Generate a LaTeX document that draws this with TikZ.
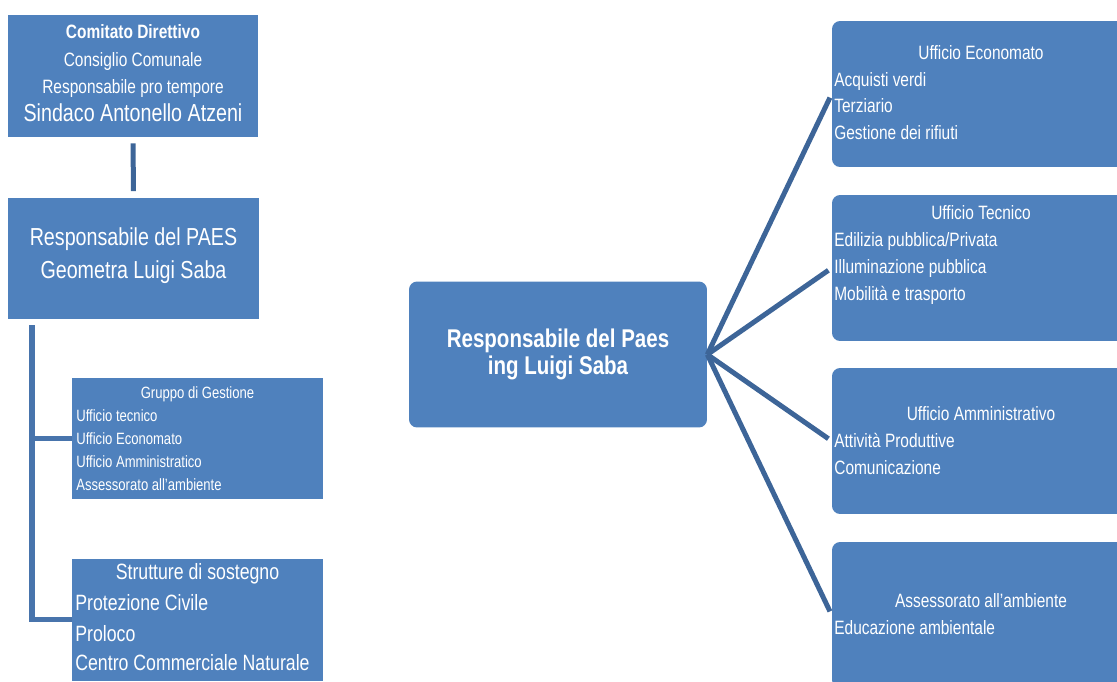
\documentclass[tikz,border=0pt]{standalone}
\usepackage{fontspec}
\setmainfont{Liberation Sans}[FakeStretch=0.8]
\usetikzlibrary{positioning}
\definecolor{boxblue}{RGB}{79,129,189}
\definecolor{linkblue}{RGB}{61,101,152}
\definecolor{brackblue}{RGB}{72,116,172}
\tikzset{
	sqbox/.style={
		rectangle,
		fill=boxblue,
		minimum width=5.02cm,
		minimum height=2.44cm,
		inner sep=0pt
	},
	rdbox/.style={
		rectangle,
		rounded corners=0.16cm,
		fill=boxblue,
		minimum width=5.96cm,
		minimum height=2.92cm,
		inner sep=0pt
	},
	ttl/.style={
		text=white,
		inner sep=0pt,
		text height=0.72em,
		text depth=0pt
	},
	item/.style={ttl, anchor=west},
	ctxt/.style={font=\fontsize{11}{13}\selectfont},
	btxt/.style={font=\fontsize{14}{16}\selectfont},
	gtxt/.style={font=\fontsize{9.3}{11}\selectfont},
	stxt/.style={font=\fontsize{12.6}{14}\selectfont},
	mtxt/.style={font=\fontsize{14.6}{17}\selectfont\bfseries},
	link/.style={draw=linkblue, line width=0.1cm},
	bracket/.style={draw=brackblue, line width=0.11cm}
}

\begin{document}
\begin{tikzpicture}[x=0.02cm, y=-0.02cm]
	\useasboundingbox (0,0) rectangle (1117,681);
	\clip (0,0) rectangle (1117,681);
	% left column
	\node (cd) [sqbox] at (133,76) {};
	\node (paes) [sqbox] at (133.5,258.5) {};
	\node (gg) [sqbox] at (197.5,438.5) {};
	\node (ss) [sqbox] at (197.5,619.5) {};

	\node (cd1) [ttl, ctxt] at (133,32.5) {\bfseries Comitato Direttivo};
	\node (cd2) [ttl, ctxt] at (133,60) {Consiglio Comunale};
	\node (cd3) [ttl, ctxt] at (133,87) {Responsabile pro tempore};
	\node (cd4) [ttl, btxt] at (133,115) {Sindaco Antonello Atzeni};

	\node (paes1) [ttl, btxt] at (133.5,239) {Responsabile del PAES};
	\node (paes2) [ttl, btxt] at (133.5,272.5) {Geometra Luigi Saba};

	\node (gg0) [ttl, gtxt] at (197.5,392) {Gruppo di Gestione};
	\node (gg1) [item, gtxt] at (76,415) {Ufficio tecnico};
	\node (gg2) [item, gtxt] at (76,438) {Ufficio Economato};
	\node (gg3) [item, gtxt] at (76,461) {Ufficio Amministratico};
	\node (gg4) [item, gtxt] at (76,484) {Assessorato all'ambiente};

	\node (ss0) [ttl, stxt] at (197.5,573) {Strutture di sostegno};
	\node (ss1) [item, stxt] at (75,604.5) {Protezione Civile};
	\node (ss2) [item, stxt] at (75,635) {Proloco};
	\node (ss3) [item, stxt] at (75,664) {Centro Commerciale Naturale};

	% centre
	\node (ctr) [rdbox] at (558,354.5) {};
	\node (ctr1) [ttl, mtxt] at (558,341) {Responsabile del Paes};
	\node (ctr2) [ttl, mtxt] at (558,368) {ing Luigi Saba};

	% right column
	\node (ue) [rdbox] at (981,94) {};
	\node (ut) [rdbox] at (981,268) {};
	\node (ua) [rdbox] at (981,441) {};
	\node (aa) [rdbox] at (981,615) {};

	\node (ue0) [ttl, ctxt] at (981,53) {Ufficio Economato};
	\node (ue1) [item, ctxt] at (834,80) {Acquisti verdi};
	\node (ue2) [item, ctxt] at (834,106) {Terziario};
	\node (ue3) [item, ctxt] at (834,133) {Gestione dei rifiuti};

	\node (ut0) [ttl, ctxt] at (981,213) {Ufficio Tecnico};
	\node (ut1) [item, ctxt] at (834,240) {Edilizia pubblica/Privata};
	\node (ut2) [item, ctxt] at (834,267) {Illuminazione pubblica};
	\node (ut3) [item, ctxt] at (834,294) {Mobilità e trasporto};

	\node (ua0) [ttl, ctxt] at (981,414) {Ufficio Amministrativo};
	\node (ua1) [item, ctxt] at (834,441) {Attività Produttive};
	\node (ua2) [item, ctxt] at (834,468) {Comunicazione};

	\node (aa0) [ttl, ctxt] at (981,601) {Assessorato all'ambiente};
	\node (aa1) [item, ctxt] at (834,628) {Educazione ambientale};

	% connectors
	\draw [link, shorten <=0.12cm, shorten >=0.12cm] (cd) -- (paes);
	\coordinate (btop) at (32,325);
	\draw [bracket] (btop) |- (gg.west);
	\draw [bracket] (btop) |- (ss.west);
	\foreach \t in {ue, ut, ua, aa}
		\draw [link, shorten >=0.08cm] (ctr.east) -- (\t.west);
\end{tikzpicture}
\end{document}
